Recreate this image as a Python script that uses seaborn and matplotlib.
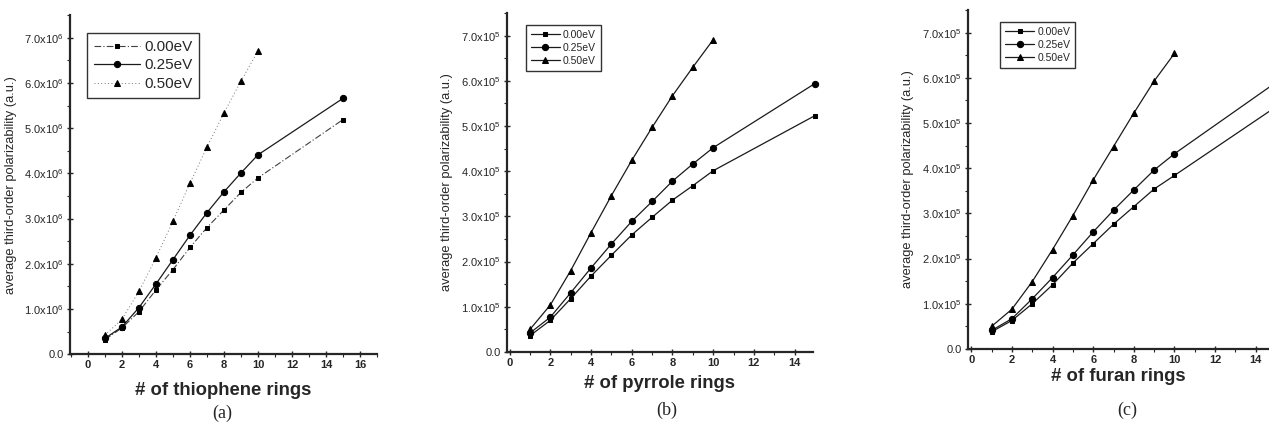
import numpy as np
import pandas as pd
import matplotlib
matplotlib.use("Agg")
import matplotlib.pyplot as plt
from matplotlib.ticker import MultipleLocator, FixedLocator, FixedFormatter
import seaborn as sns

# number of rings
rings = [1, 2, 3, 4, 5, 6, 7, 8, 9, 10, 15]
rings_050 = [1, 2, 3, 4, 5, 6, 7, 8, 9, 10]

# (a) thiophene
thio_000 = [0.32, 0.58, 0.94, 1.42, 1.87, 2.36, 2.80, 3.19, 3.58, 3.90, 5.19]
thio_025 = [0.35, 0.60, 1.03, 1.55, 2.09, 2.63, 3.13, 3.59, 4.01, 4.41, 5.66]
thio_050 = [0.42, 0.77, 1.39, 2.13, 2.94, 3.78, 4.58, 5.34, 6.04, 6.71]

# (b) pyrrole
pyr_000 = [0.36, 0.70, 1.18, 1.68, 2.14, 2.59, 2.98, 3.36, 3.68, 4.01, 5.23]
pyr_025 = [0.42, 0.77, 1.31, 1.86, 2.39, 2.89, 3.33, 3.78, 4.16, 4.52, 5.94]
pyr_050 = [0.50, 1.04, 1.80, 2.64, 3.46, 4.24, 4.97, 5.67, 6.30, 6.91]

# (c) furan
fur_000 = [0.38, 0.63, 1.00, 1.42, 1.90, 2.33, 2.76, 3.15, 3.54, 3.84, 5.36]
fur_025 = [0.41, 0.67, 1.11, 1.58, 2.08, 2.59, 3.07, 3.52, 3.96, 4.32, 5.90]
fur_050 = [0.50, 0.88, 1.49, 2.20, 2.95, 3.74, 4.48, 5.22, 5.93, 6.54]

legend_labels = ["0.00eV", "0.25eV", "0.50eV"]
y_ticks = [0, 1, 2, 3, 4, 5, 6, 7]

sns.set_style("ticks")
plt.rcParams['font.family'] = ['Liberation Sans', 'DejaVu Sans']
plt.rcParams['mathtext.fontset'] = 'custom'
plt.rcParams['mathtext.rm'] = 'Liberation Sans'

fig = plt.figure(figsize=(12.69, 4.34), dpi=100)

panels = [
    dict(rect=[0.0552, 0.184, 0.2419, 0.781], xlim=(-1.05, 17.0), xmax=16,
         data=(thio_000, thio_025, thio_050), xlabel="# of thiophene rings", exp=6,
         styles=[(0, (6, 2, 1, 2)), "-", (0, (1, 2.5))],
         widths=[0.8, 0.9, 0.7], greys=["0.25", "0.1", "0.45"],
         leg=dict(bbox=(0.03, 0.97), size=11, hl=3.0),
         cap=(222, 413), cap_txt="(a)", lp=5, xlp=8),
    dict(rect=[0.3995, 0.189, 0.2411, 0.781], xlim=(-0.13, 14.9), xmax=14,
         data=(pyr_000, pyr_025, pyr_050), xlabel="# of pyrrole rings", exp=5,
         styles=["-", "-", "-"], widths=[0.9, 0.9, 0.9], greys=["0.1", "0.1", "0.1"],
         leg=dict(bbox=(0.045, 0.98), size=7.5, hl=2.8),
         cap=(667, 410), cap_txt="(b)", lp=6, xlp=5),
    dict(rect=[0.7628, 0.1959, 0.2372, 0.781], xlim=(-0.16, 14.65), xmax=14,
         data=(fur_000, fur_025, fur_050), xlabel="# of furan rings", exp=5,
         styles=["-", "-", "-"], widths=[0.9, 0.9, 0.9], greys=["0.1", "0.1", "0.1"],
         leg=dict(bbox=(0.09, 0.98), size=7.5, hl=2.8),
         cap=(1127, 410), cap_txt="(c)", lp=6, xlp=2),
]

markers = ["s", "o", "^"]
msizes = [3.5, 4.5, 4.5]

for p in panels:
    ax = fig.add_axes(p["rect"])
    xs = [rings, rings, rings_050]
    for i in range(3):
        sns.lineplot(x=xs[i], y=p["data"][i], ax=ax, color=p["greys"][i],
                     linestyle=p["styles"][i], linewidth=p["widths"][i],
                     marker=markers[i], markersize=msizes[i],
                     markerfacecolor="black", markeredgecolor="black",
                     label=legend_labels[i], sort=False)
    for ln in ax.get_lines():
        ln.set_clip_on(False)
    ax.set_xlim(*p["xlim"])
    ax.set_ylim(0, 7.5)
    ax.xaxis.set_major_locator(FixedLocator(list(range(0, p["xmax"] + 1, 2))))
    ax.xaxis.set_minor_locator(MultipleLocator(1))
    ax.yaxis.set_major_locator(FixedLocator(y_ticks))
    ax.yaxis.set_minor_locator(MultipleLocator(0.5))
    ylabs = ["0.0"] + ["%d.0x10$^{%d}$" % (v, p["exp"]) for v in y_ticks[1:]]
    ax.yaxis.set_major_formatter(FixedFormatter(ylabs))
    ax.tick_params(axis="both", which="major", direction="inout", length=5,
                   width=1.0, labelsize=8, pad=2)
    ax.tick_params(axis="both", which="minor", direction="out", length=2.5, width=0.8)
    for lab in ax.get_xticklabels():
        lab.set_fontweight("bold")
    for s in ["left", "bottom"]:
        ax.spines[s].set_linewidth(1.6)
    sns.despine(ax=ax)
    ax.set_xlabel(p["xlabel"], fontsize=13.3, fontweight="bold", labelpad=p["xlp"])
    ax.set_ylabel("average third-order polarizability (a.u.)", fontsize=9.3,
                  labelpad=p["lp"])
    ax.legend(loc="upper left", bbox_to_anchor=p["leg"]["bbox"],
              fontsize=p["leg"]["size"], handlelength=p["leg"]["hl"],
              frameon=True, fancybox=False, edgecolor="black",
              borderpad=0.45, labelspacing=0.3, handletextpad=0.3)
    ax.get_legend().get_frame().set_linewidth(1.0)
    cx, cy = p["cap"]
    fig.text(cx / 1269, 1 - cy / 434, p["cap_txt"], ha="center", va="center",
             fontsize=13, family=["Liberation Serif", "DejaVu Serif"])

fig.savefig("out.png", dpi=100)
